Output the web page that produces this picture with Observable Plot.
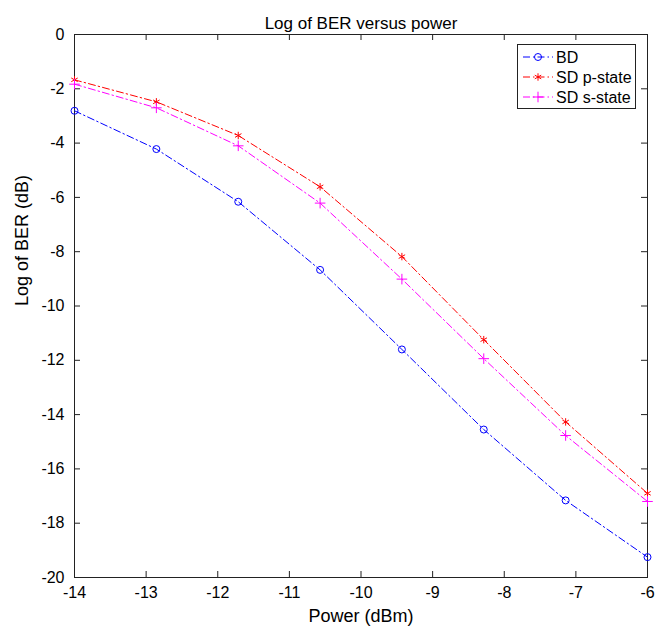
<!DOCTYPE html>
<html><head><meta charset="utf-8">
<script src="https://cdn.jsdelivr.net/npm/d3@7"></script>
<script src="https://cdn.jsdelivr.net/npm/@observablehq/plot@0.6"></script>
<style>
body{margin:0;background:#fff;font-family:"Liberation Sans",Arial,sans-serif;}
#wrap{position:relative;width:663px;height:632px;}
#legend{position:absolute;left:517px;top:44px;}
</style></head><body><div id="wrap"></div>
<script>
const power = [-14, -12.857, -11.714, -10.571, -9.429, -8.286, -7.143, -6];
const bd  = [-2.81, -4.22, -6.16, -8.67, -11.6, -14.55, -17.16, -19.25];
const sdP = [-1.67, -2.48, -3.72, -5.61, -8.18, -11.24, -14.27, -16.9];
const sdS = [-1.83, -2.70, -4.10, -6.21, -9.01, -11.94, -14.77, -17.2];
const seriesNames = ["BD", "SD p-state", "SD s-state"];
const seriesColors = ["#0000ff", "#ff0000", "#ff00ff"];
const seriesSymbols = ["circle", "asterisk", "plus"];
const xTicks = [-14, -13, -12, -11, -10, -9, -8, -7, -6];
const yTicks = [0, -2, -4, -6, -8, -10, -12, -14, -16, -18, -20];
const titleText = "Log of BER versus power";
const xLabel = "Power (dBm)";
const yLabel = "Log of BER (dB)";

const seriesValues = [bd, sdP, sdS];
const rows = [];
seriesNames.forEach((s, i) => power.forEach((p, j) => rows.push({series: s, power: p, value: seriesValues[i][j]})));

const W = 663, H = 632, mL = 74, mR = 16, mT = 34, mB = 55, tick = 6;
const fw = W - mL - mR, fh = H - mT - mB;
const dash = "7,3,1.5,3";
const fmt = d => String(d);
const axisColor = "#222";
const chart = Plot.plot({
  width: W, height: H,
  marginLeft: mL, marginRight: mR, marginTop: mT, marginBottom: mB,
  style: {fontFamily: "'Liberation Sans', Arial, sans-serif", fontSize: "16px", color: "#000", background: "#fff", overflow: "visible"},
  x: {domain: [-14, -6]},
  y: {domain: [-20, 0]},
  color: {domain: seriesNames, range: seriesColors},
  symbol: {domain: seriesNames, range: seriesSymbols},
  marks: [
    Plot.axisX(xTicks, {anchor: "bottom", tickSize: 0, tickPadding: 9, tickFormat: fmt, label: null, fontSize: 16}),
    Plot.axisY(yTicks, {anchor: "left", tickSize: 0, tickPadding: 10, tickFormat: fmt, label: null, fontSize: 16}),
    Plot.tickX(xTicks, {x: d => d, insetTop: fh - tick, stroke: axisColor}),
    Plot.tickX(xTicks, {x: d => d, insetBottom: fh - tick, stroke: axisColor}),
    Plot.tickY(yTicks, {y: d => d, insetRight: fw - tick, stroke: axisColor}),
    Plot.tickY(yTicks, {y: d => d, insetLeft: fw - tick, stroke: axisColor}),
    Plot.frame({stroke: axisColor}),
    Plot.line(rows, {x: "power", y: "value", z: "series", stroke: "series", strokeWidth: 1, strokeDasharray: dash}),
    Plot.dot(rows, {x: "power", y: "value", stroke: "series", symbol: "series", fill: "none", r: 3.5, strokeWidth: 1}),
    Plot.text([titleText], {frameAnchor: "top", dy: -18, fontSize: 17}),
    Plot.text([xLabel], {frameAnchor: "bottom", dy: 44, fontSize: 18}),
    Plot.text([yLabel], {frameAnchor: "left", dx: -52, rotate: -90, fontSize: 18})
  ]
});
const wrap = document.getElementById("wrap");
wrap.appendChild(chart);

// legend
const lg = d3.select(wrap).append("svg").attr("id", "legend").attr("width", 120).attr("height", 66);
lg.append("rect").attr("x", 0.5).attr("y", 0.5).attr("width", 118).attr("height", 64).attr("fill", "#fff").attr("stroke", axisColor);
seriesNames.forEach((s, i) => {
  const cy = 13 + i * 20;
  const g = lg.append("g");
  g.append("line").attr("x1", 6).attr("x2", 36).attr("y1", cy).attr("y2", cy)
    .attr("stroke", seriesColors[i]).attr("stroke-dasharray", dash);
  g.append("text").attr("x", 39).attr("y", cy).attr("dy", "0.35em").attr("font-size", 16).text(s);
});
const legendMarks = Plot.dot(seriesNames, {x: (d, i) => i, y: 0, symbol: d => d, stroke: d => d, fill: "none", r: 3.5}).plot({
  width: 30, height: 60, margin: 0, x: {axis: null, domain: [0, 0]}, y: {axis: null, domain: [0, 0]},
  color: {domain: seriesNames, range: seriesColors}, symbol: {domain: seriesNames, range: seriesSymbols}, style: {overflow: "visible"}
});
const paths = legendMarks.querySelectorAll("path");
paths.forEach((p, i) => {
  const np = p.cloneNode(true);
  np.setAttribute("transform", `translate(21,${13 + i * 20})`);
  np.setAttribute("fill", "none");
  np.setAttribute("stroke", seriesColors[i]);
  lg.node().appendChild(np);
});
</script></body></html>
